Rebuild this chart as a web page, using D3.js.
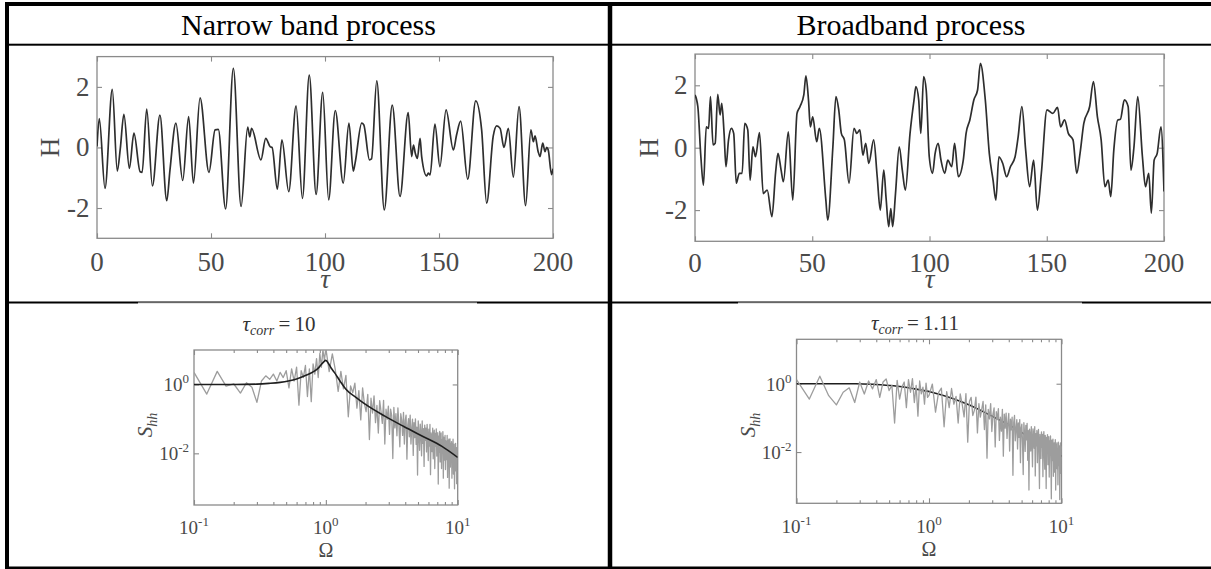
<!DOCTYPE html>
<html><head><meta charset="utf-8">
<script src="https://cdn.jsdelivr.net/npm/d3@7"></script>
<style>body{margin:0;background:#fff;} svg{display:block;}</style>
</head><body><svg id="c" width="1211" height="569"></svg>
<script>
// ---------------- DATA ----------------
const headers = ["Narrow band process", "Broadband process"];
const tauTicks = [0, 50, 100, 150, 200];
const hTicks = [-2, 0, 2];
const omegaTickExps = [-1, 0, 1];
const sTickExps = [-2, 0];
const corrValues = ["10", "1.11"];

// narrow band time series (tau, H) read at extrema / kinks
const narrowTau = [0,1.0,3.5,6.7,8.9,10.2,11.8,14.2,16.2,18.9,19.8,21.8,24.3,27.6,30.6,32.0,34.6,37.6,40.2,42.3,45.2,49.1,51.8,53.2,56.4,59.8,63.2,66.1,67.0,67.8,71.9,74.0,76.0,76.8,79.1,81.1,84.1,87.3,90.1,93.1,96.1,99.0,101.6,104.5,108.0,110.5,112.4,113.2,116.1,117.0,119.5,120.4,122.7,126.0,129.5,132.9,136.5,138.0,138.8,139.6,140.5,141.7,142.4,144.6,145.3,146.1,148.2,150.4,153.1,156.3,157.7,159.5,162.6,166.1,168.7,170.9,173.8,175.3,176.8,178.5,180.4,182.6,185.1,188.0,190.3,191.4,192.1,193.5,194.3,195.5,196.5,197.2,197.9,199.4,200];
const narrowH   = [0.03,0.95,-1.35,1.92,-0.78,-0.05,1.09,-0.69,0.47,-0.80,-0.82,1.27,-1.27,1.07,-1.76,-0.75,0.80,-1.09,1.02,-1.18,1.64,-0.82,0.58,0.60,-2.03,2.61,-1.95,0.67,0.35,0.63,-0.41,0.30,0.02,0.0,-1.38,0.25,-1.46,1.37,-1.68,2.39,-1.55,1.82,-1.73,1.22,-1.18,0.80,-0.78,-0.52,0.80,0.75,-0.41,-0.38,2.20,-2.06,1.40,-1.62,1.15,-0.30,0.08,-0.19,-0.36,0.30,-0.30,-0.94,-0.85,-0.91,0.77,-0.63,1.24,-0.08,0.41,0.87,-1.05,1.54,0.58,-1.84,0.38,0.71,0.63,0.0,0.63,-0.98,1.35,-1.92,0.58,0.19,0.38,-0.14,-0.30,0.14,-0.14,0.0,-0.08,-0.90,-0.70];

// broadband time series (tau, H)
const broadTau = [0,1.2,2.5,3.6,4.8,5.8,6.6,7.7,8.6,9.7,10.7,11.4,12.4,13.2,14.3,15.5,16.5,17.6,18.9,20.1,21.2,22.5,23.5,24.7,25.8,27.5,29.1,30.8,32.8,34.4,35.4,36.7,37.7,39.8,41.7,43.5,44.8,46.4,47.3,48.4,49.2,50.2,51.9,53.0,55.8,56.6,58.8,60.1,61.3,62.4,63.7,65.7,67.8,69.0,70.3,71.6,72.8,74.1,76.2,77.7,79.0,80.5,81.5,82.6,83.5,84.3,85.5,87.1,88.4,89.7,91.7,93.4,94.2,95.4,96.3,97.5,98.6,99.9,101.3,102.4,103.7,104.9,106.5,107.8,109.5,110.7,112.3,114.4,115.6,117.2,118.9,120.5,121.7,123.8,125.5,127.1,128.3,129.6,131.2,132.9,134.5,136.5,137.8,139.4,141.0,142.7,144.4,146.0,147.7,150.1,152.6,154.6,155.9,157.6,159.2,161.2,162.8,164.2,165.8,168.3,169.9,171.6,173.2,174.8,176.2,177.3,178.6,180.3,181.4,183.1,184.7,185.9,187.2,188.8,190.8,192.1,193.5,194.6,195.8,197.1,198.7,200];
const broadH   = [1.69,1.32,-0.29,-1.20,0.67,0.62,1.64,0.09,0.14,1.71,1.05,1.42,0.46,-0.61,0.25,0.62,0.46,-1.14,-0.82,-0.82,0.78,0.57,-1.04,0.03,-0.29,0.48,-1.47,-1.36,-2.21,-0.77,-0.18,-0.71,-1.09,0.51,-1.68,1.10,1.32,1.69,2.30,1.53,0.67,0.99,0.19,0.62,-1.68,-2.32,0.03,1.64,1.21,0.46,0.25,-1.14,0.62,0.46,0.57,-0.24,0.14,-0.50,0.25,-0.93,-2.00,-0.72,-1.63,-2.53,-1.95,-2.53,-1.47,0.03,-0.72,-1.36,0.46,1.53,1.96,1.53,0.46,2.28,1.85,-0.29,-0.82,-0.18,0.14,-0.40,-0.82,-0.40,-0.61,0.14,-0.93,-0.40,0.46,0.89,1.53,1.85,2.70,1.53,-0.18,-1.04,-1.68,-0.29,-0.50,-0.93,-0.61,-0.29,0.35,1.32,-0.07,-1.25,-0.40,-2.00,-0.82,1.21,1.10,1.29,0.67,0.89,0.46,0.25,-0.82,-0.18,0.78,1.32,2.12,0.99,0.25,-1.25,-1.04,-1.57,-0.07,0.89,0.91,1.53,1.32,-0.72,0.03,1.64,-0.29,-1.25,-0.82,-2.10,-0.40,-0.18,0.67,-1.40];

// periodogram sampling grid (evenly spaced frequencies)
const lowOmegaStart = 0.1, lowOmegaStep = 0.025;
const highOmegaStart = 1.0, highOmegaStep = 0.06;

// log10 of measured spectra
const narrowSpecLow = [0.35,-0.28,0.38,-0.05,0.02,-0.25,0.05,-0.08,-0.52,0.1,0.25,0.15,0.3,0.1,0.35,0.2,0.4,-0.1,0.45,0.1,0.5,-0.6,0.4,0.2,0.55,-0.35,0.45,-0.5,0.6,0.3,0.75,0.2,0.9,0.5,1.0,0.7];
const narrowSpecHigh = [1.05,0.37,0.89,0.42,-0.20,0.38,-0.13,0.26,-0.94,-0.04,
-0.24,0.04,-0.69,-0.18,-1.03,-0.10,-0.56,-0.79,-0.29,-1.60,
-0.40,-0.83,-0.33,-1.11,-0.61,-1.41,-0.47,-0.78,-1.13,-0.46,
-1.73,-0.72,-1.01,-0.63,-1.45,-0.72,-0.91,-2.15,-0.67,-1.26,
-0.85,-1.49,-0.68,-1.16,-1.81,-0.85,-1.04,-1.48,-0.81,-1.73,
-1.04,-0.89,-2.17,-1.18,-0.99,-1.52,-0.89,-1.73,-1.29,-1.01,
-2.06,-1.11,-1.54,-1.00,-1.74,-1.24,-2.63,-1.06,-1.43,-1.91,
-1.15,-1.38,-2.07,-1.06,-1.71,-1.28,-2.38,-1.18,-1.62,-1.27,
-1.96,-1.16,-1.52,-2.21,-1.30,-1.79,-1.16,-2.62,-1.41,-1.52,
-1.95,-1.27,-2.16,-1.51,-1.33,-2.44,-1.42,-1.80,-1.29,-2.08,
-1.65,-1.40,-2.89,-1.50,-1.97,-1.36,-2.25,-1.64,-1.41,-2.44,
-1.60,-1.85,-1.37,-2.72,-1.53,-1.84,-2.20,-1.48,-2.47,-1.64,
-1.78,-2.18,-1.48,-2.70,-1.64,-2.08,-1.59,-3.01,-1.78,-1.58,
-2.40,-1.72,-2.03,-1.66,-2.72,-1.72,-2.24,-1.59,-2.60,-1.91,
-1.73,-3.03,-1.87,-2.19,-1.71,-2.51,-1.86,-2.88,-1.83,-2.09,
-1.74];
const broadSpecLow = [0.12,-0.45,0.22,-0.35,-0.62,-0.25,-0.12,-0.55,0.05,-0.30,0.08,-0.15,0.12,-0.40,0.05,0.14,-0.20,-0.05,-1.15,0.10,-0.45,-0.10,0.05,-0.70,0.12,-0.25,0.15,-0.55,-0.05,-0.95,0.08,-0.30,-0.10,-0.60,0.02,-0.40];
const broadSpecHigh = [-0.34,-0.01,-0.83,-0.26,-0.13,-1.26,-0.23,-0.70,-0.14,-0.60,
-0.37,-1.15,-0.30,-0.60,-0.97,-0.29,-1.71,-0.51,-0.40,-0.93,
-0.78,-0.39,-1.44,-0.58,-0.98,-0.75,-0.52,-1.34,-0.62,-2.18,
-0.75,-1.03,-0.58,-1.40,-0.89,-0.71,-1.85,-0.82,-1.05,-0.73,
-1.66,-0.98,-1.39,-0.75,-2.12,-0.89,-1.30,-0.86,-1.60,-1.13,
-0.87,-1.97,-1.04,-1.35,-0.98,-2.68,-1.13,-0.93,-1.67,-1.31,
-1.05,-1.91,-1.15,-1.57,-1.05,-2.31,-1.30,-1.18,-1.73,-2.66,
-1.14,-1.44,-1.98,-1.22,-1.64,-1.16,-2.24,-1.37,-3.11,-1.33,
-1.50,-1.97,-1.26,-1.66,-2.43,-1.32,-1.49,-1.89,-1.26,-2.70,
-1.46,-1.82,-1.37,-2.31,-1.59,-1.34,-2.01,-3.07,-1.48,-1.71,
-2.19,-1.41,-1.86,-1.48,-2.72,-1.62,-1.40,-2.01,-2.50,-1.51,
-1.75,-3.07,-1.57,-2.01,-1.49,-2.37,-1.74,-1.55,-2.73,-1.68,
-1.95,-1.53,-2.31,-3.37,-1.65,-1.85,-2.25,-1.62,-2.71,-1.79,
-1.73,-2.59,-1.95,-1.64,-3.11,-1.80,-2.23,-1.73,-2.49,-1.91,
-2.96,-1.71,-2.07,-2.40,-1.82,-3.39,-1.91,-1.73,-2.62,-2.02,
-1.83];

// theoretical spectra (Omega, log10 S)
const narrowTheoryOmega = [0.1,0.2,0.3,0.37,0.45,0.52,0.6,0.68,0.76,0.83,0.88,0.92,0.96,1.0,1.05,1.1,1.16,1.28,1.42,1.7,2.0,2.8,3.9,5.45,7.6,10];
const narrowTheoryLogS  = [0,0,0.01,0.03,0.06,0.1,0.16,0.24,0.32,0.40,0.48,0.57,0.65,0.70,0.60,0.47,0.35,0.10,-0.14,-0.38,-0.58,-0.92,-1.22,-1.51,-1.80,-2.12];
const broadTheoryOmega = [0.1,0.28,0.385,0.54,0.75,1.05,1.47,2.06,2.85,4.0,5.6,7.8,10];
const broadTheoryLogS  = [0,0,-0.02,-0.06,-0.14,-0.25,-0.42,-0.64,-0.91,-1.2,-1.54,-1.83,-2.13];

// ---------------- DRAWING ----------------
const svg = d3.select("#c");
svg.append("rect").attr("width", 1211).attr("height", 569).attr("fill", "#fff");
const serif = "'Liberation Serif','Times New Roman',serif";
const labelColor = "#4a4a4a";
const axisColor = "#8a8a8a";
const defs = svg.append("defs");

function clip(id, x0, x1, yTop, yBot) {
  defs.append("clipPath").attr("id", id).append("rect")
    .attr("x", x0).attr("y", yTop).attr("width", x1 - x0).attr("height", yBot - yTop);
  return `url(#${id})`;
}

function boxTicks(g, x, y, xt, yt, xMinor, len, lenMinor) {
  const [x0, x1] = x.range(), [yb, yt0] = y.range();
  const mk = (axis, tr) => {
    const a = g.append("g").attr("transform", tr).call(axis);
    a.select(".domain").remove();
    a.selectAll("line").attr("stroke", axisColor).attr("stroke-width", 1.1);
    a.selectAll("text").remove();
  };
  mk(d3.axisBottom(x).tickValues(xt).tickSize(-len), `translate(0,${yb})`);
  mk(d3.axisTop(x).tickValues(xt).tickSize(-len), `translate(0,${yt0})`);
  if (xMinor) {
    mk(d3.axisBottom(x).tickValues(xMinor).tickSize(-lenMinor), `translate(0,${yb})`);
    mk(d3.axisTop(x).tickValues(xMinor).tickSize(-lenMinor), `translate(0,${yt0})`);
  }
  mk(d3.axisLeft(y).tickValues(yt).tickSize(-len), `translate(${x0},0)`);
  mk(d3.axisRight(y).tickValues(yt).tickSize(-len), `translate(${x1},0)`);
  g.append("rect").attr("x", x0).attr("y", yt0).attr("width", x1 - x0).attr("height", yb - yt0)
    .attr("fill", "none").attr("stroke", axisColor).attr("stroke-width", 1.3);
}

function timePanel(p) {
  const x = d3.scaleLinear().domain([0, 200]).range([p.x0, p.x1]);
  const y = d3.scaleLinear().domain([-3, 3]).range([p.yb, p.yt]);
  const g = svg.append("g");
  boxTicks(g, x, y, tauTicks, hTicks, null, 5, 0);
  const cp = clip("c" + p.id, p.x0, p.x1, p.yt, p.yb);
  g.append("path").datum(p.tau.map((t, i) => [t, p.h[i]]))
    .attr("clip-path", cp)
    .attr("d", d3.line().x(d => x(d[0])).y(d => y(d[1])).curve(d3.curveMonotoneX))
    .attr("fill", "none").attr("stroke", "#2e2e2e").attr("stroke-width", 1.7)
    .attr("stroke-linejoin", "round");
  const fs = 27;
  g.selectAll(".xl").data(tauTicks).join("text")
    .attr("x", d => x(d)).attr("y", p.xLabY)
    .attr("text-anchor", "middle").attr("font-family", serif).attr("font-size", fs)
    .attr("fill", labelColor).text(d => d);
  g.selectAll(".yl").data(hTicks).join("text")
    .attr("x", p.x0 - 7.5).attr("y", d => y(d) + 9)
    .attr("text-anchor", "end").attr("font-family", serif).attr("font-size", fs)
    .attr("fill", labelColor).text(d => d);
  g.append("text").attr("x", (p.x0 + p.x1) / 2).attr("y", p.tauY)
    .attr("text-anchor", "middle").attr("font-family", serif).attr("font-style", "italic")
    .attr("font-size", fs).attr("fill", labelColor).text("τ");
  g.append("text").attr("transform", `translate(${p.hX},${(p.yt + p.yb) / 2}) rotate(-90)`)
    .attr("text-anchor", "middle").attr("font-family", serif).attr("font-size", fs)
    .attr("fill", labelColor).text("H");
}

function specPanel(p) {
  const x = d3.scaleLog().domain([0.1, 10]).range([p.x0, p.x1]);
  const y = d3.scaleLog().domain([Math.pow(10, p.yMinExp), Math.pow(10, p.yMaxExp)]).range([p.yb, p.yt]);
  const g = svg.append("g");
  const minor = [];
  [0.1, 1].forEach(b => { for (let k = 2; k <= 9; k++) minor.push(b * k); });
  boxTicks(g, x, y, omegaTickExps.map(e => Math.pow(10, e)), sTickExps.map(e => Math.pow(10, e)), minor, 5, 3);
  const cp = clip("c" + p.id, p.x0, p.x1, p.yt, p.yb);
  const lowO = d3.range(p.low.length).map(i => lowOmegaStart + i * lowOmegaStep);
  const highO = d3.range(p.high.length).map(i => highOmegaStart + i * highOmegaStep);
  const meas = lowO.map((o, i) => [o, p.low[i]]).concat(highO.map((o, i) => [o, p.high[i]]));
  const theory = p.thO.map((o, i) => [o, p.thS[i]]);
  const lineM = d3.line().x(d => x(d[0])).y(d => y(Math.pow(10, d[1])));
  const lineT = d3.line().x(d => x(d[0])).y(d => y(Math.pow(10, d[1]))).curve(d3.curveMonotoneX);
  const drawMeas = () => g.append("path").datum(meas).attr("clip-path", cp).attr("d", lineM)
    .attr("fill", "none").attr("stroke", "#9d9d9d").attr("stroke-width", 1.3).attr("stroke-linejoin", "round");
  const drawTheory = () => g.append("path").datum(theory).attr("clip-path", cp).attr("d", lineT)
    .attr("fill", "none").attr("stroke", "#1e1e1e").attr("stroke-width", 1.6);
  if (p.theoryOnTop) { drawMeas(); drawTheory(); } else { drawTheory(); drawMeas(); }

  const fs = 19, fsSup = 13;
  const pow = (sel, e) => { sel.append("tspan").text("10"); sel.append("tspan").attr("dy", -8).attr("font-size", fsSup).text(e); };
  omegaTickExps.forEach(e => {
    const t = g.append("text").attr("x", x(Math.pow(10, e))).attr("y", p.xLabY)
      .attr("text-anchor", "middle").attr("font-family", serif).attr("font-size", fs).attr("fill", labelColor);
    pow(t, e);
  });
  sTickExps.forEach(e => {
    const t = g.append("text").attr("x", p.x0 - 5).attr("y", y(Math.pow(10, e)) + 7)
      .attr("text-anchor", "end").attr("font-family", serif).attr("font-size", fs).attr("fill", labelColor);
    pow(t, e);
  });
  g.append("text").attr("x", (p.x0 + p.x1) / 2).attr("y", p.omY).attr("text-anchor", "middle")
    .attr("font-family", serif).attr("font-size", 20).attr("fill", labelColor).text("Ω");
  const s = g.append("text").attr("transform", `translate(${p.sX},${p.sY}) rotate(-90)`)
    .attr("text-anchor", "middle").attr("font-family", serif).attr("font-size", 21)
    .attr("font-style", "italic").attr("fill", labelColor);
  s.append("tspan").text("S");
  s.append("tspan").attr("dy", 5).attr("font-size", 14).text("hh");
  const t = g.append("text").attr("x", p.tX).attr("y", p.tY).attr("text-anchor", "middle")
    .attr("font-family", serif).attr("font-size", 21).attr("fill", "#333");
  t.append("tspan").attr("font-style", "italic").text("τ");
  t.append("tspan").attr("font-style", "italic").attr("font-size", 14).attr("dy", 4).text("corr");
  t.append("tspan").attr("dy", -4).text("\u2009=\u2009" + p.corr);
}

timePanel({ id: "tl", x0: 97, x1: 553, yb: 238.3, yt: 56.6, tau: narrowTau, h: narrowH, xLabY: 271, tauY: 288, hX: 59 });
timePanel({ id: "tr", x0: 695, x1: 1164, yb: 241.3, yt: 54.1, tau: broadTau, h: broadH, xLabY: 272, tauY: 288, hX: 658 });

specPanel({ id: "bl", x0: 194, x1: 457.7, yb: 505, yt: 350, yMinExp: -3.5, yMaxExp: 1,
  low: narrowSpecLow, high: narrowSpecHigh, thO: narrowTheoryOmega, thS: narrowTheoryLogS, theoryOnTop: true,
  xLabY: 534, omY: 557, sX: 152, sY: 425, tX: 279, tY: 331, corr: corrValues[0] });
specPanel({ id: "br", x0: 796.5, x1: 1061.5, yb: 503.3, yt: 339.3, yMinExp: -3.5, yMaxExp: 1.3,
  low: broadSpecLow, high: broadSpecHigh, thO: broadTheoryOmega, thS: broadTheoryLogS, theoryOnTop: false,
  xLabY: 533, omY: 556, sX: 755, sY: 425, tX: 915, tY: 330, corr: corrValues[1] });

// ---------------- TABLE ----------------
const tbl = svg.append("g");
const hl = (x0, x1, yy, w) => tbl.append("rect").attr("x", x0).attr("y", yy - w / 2).attr("width", x1 - x0).attr("height", w).attr("fill", "#000");
const vl = (xx, y0, y1, w) => tbl.append("rect").attr("x", xx - w / 2).attr("y", y0).attr("width", w).attr("height", y1 - y0).attr("fill", "#000");
hl(5, 1211, 4, 4);
hl(5, 1211, 567.8, 2.6);
hl(5, 1211, 44.7, 2);
hl(5, 1211, 302.5, 2);
vl(7, 2, 569, 4);
vl(610, 2, 569, 4.5);
tbl.append("rect").attr("x", 138).attr("y", 302.6).attr("width", 339).attr("height", 1.2).attr("fill", "#fff");
tbl.append("rect").attr("x", 738).attr("y", 302.6).attr("width", 344).attr("height", 1.2).attr("fill", "#fff");
tbl.selectAll(".hd").data(headers).join("text")
  .attr("x", (d, i) => [308.5, 911][i]).attr("y", 34.5)
  .attr("text-anchor", "middle").attr("font-family", serif).attr("font-size", 30).attr("fill", "#000")
  .text(d => d);
</script></body></html>
